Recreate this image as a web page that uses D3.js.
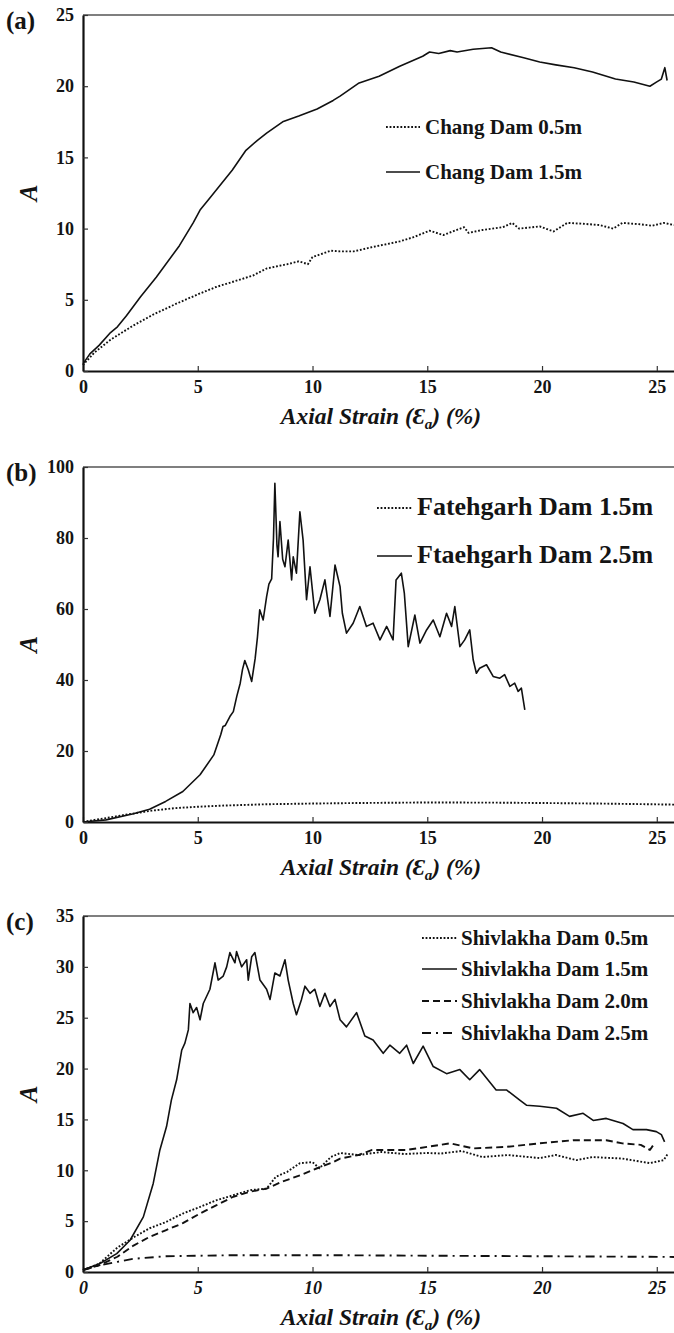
<!DOCTYPE html>
<html>
<head>
<meta charset="utf-8">
<script src="https://cdn.jsdelivr.net/npm/d3@7"></script>
<style>
  body { margin: 0; background: #fff; }
  svg text { font-family: "Liberation Serif", "Times New Roman", serif; font-weight: bold; fill: #141414; }
</style>
</head>
<body>
<div id="chart"></div>
<script>
// --- Data ---
const strainTicks = [0, 5, 10, 15, 20, 25];
const ticksA = [0, 5, 10, 15, 20, 25];
const ticksB = [0, 20, 40, 60, 80, 100];
const ticksC = [0, 5, 10, 15, 20, 25, 30, 35];

// (a) Chang Dam
const changDam05 = [[0,0.4],[0.1,0.6],[0.5,1.3],[1.2,2.2],[2.2,3.2],[3.1,4.0],[4.1,4.75],[5.1,5.45],[5.8,5.9],[6.6,6.3],[7.4,6.7],[8.0,7.2],[8.9,7.5],[9.4,7.7],[9.8,7.5],[10.0,8.0],[10.8,8.45],[11.2,8.4],[11.8,8.4],[12.6,8.7],[13.8,9.1],[14.4,9.4],[15.1,9.85],[15.7,9.55],[16.6,10.1],[16.8,9.7],[17.4,9.9],[18.3,10.1],[18.7,10.4],[19.0,10.0],[19.9,10.15],[20.5,9.8],[21.1,10.4],[21.7,10.35],[22.5,10.25],[23.1,10.0],[23.5,10.4],[24.3,10.3],[24.8,10.2],[25.3,10.4],[25.75,10.25]];
const changDam15 = [[0,0.5],[0.3,1.2],[0.7,1.8],[1.2,2.7],[1.5,3.1],[1.9,3.9],[2.5,5.2],[3.2,6.6],[4.2,8.8],[4.8,10.4],[5.1,11.3],[5.5,12.1],[6.0,13.1],[6.5,14.1],[7.1,15.5],[7.6,16.2],[8.0,16.7],[8.7,17.5],[9.4,17.9],[10.2,18.4],[10.9,19.0],[11.2,19.3],[12.0,20.2],[12.9,20.7],[13.8,21.4],[14.8,22.1],[15.1,22.4],[15.5,22.3],[16.0,22.5],[16.3,22.4],[17.0,22.6],[17.8,22.7],[18.2,22.4],[19.2,22.0],[19.9,21.7],[20.6,21.5],[21.4,21.3],[22.2,21.0],[23.2,20.5],[24.0,20.3],[24.7,20.0],[25.0,20.3],[25.2,20.5],[25.35,21.3],[25.45,20.4]];

// (b) Fatehgarh Dam
const fatehgarh15 = [[0,0],[0.5,0.6],[1,1.1],[2,2.2],[3,3.2],[4,3.9],[5,4.3],[6,4.6],[7,4.8],[8,5.0],[10,5.2],[12,5.35],[15,5.5],[18,5.45],[20,5.35],[22.5,5.2],[25.75,4.9]];
const ftaehgarh25 = [[0,0],[1,0.6],[2.2,2.3],[2.9,3.6],[3.6,5.8],[4.35,8.6],[5.1,13.3],[5.7,18.9],[6.0,24.6],[6.1,26.9],[6.2,27.2],[6.4,29.7],[6.55,31.1],[6.7,35.4],[6.85,39.1],[6.95,43],[7.05,45.5],[7.2,42.9],[7.35,39.6],[7.5,46],[7.6,52],[7.7,59.8],[7.85,56.9],[8.0,63.5],[8.1,67],[8.22,68.5],[8.3,80],[8.36,95.4],[8.45,78],[8.5,74.7],[8.58,84.6],[8.7,74],[8.8,71.9],[8.94,79.4],[9.09,68.2],[9.16,74.7],[9.3,70.1],[9.45,87.4],[9.59,79.4],[9.74,62.6],[9.89,71.9],[10.1,58.8],[10.32,62.6],[10.54,68.2],[10.76,57.9],[10.98,72.4],[11.2,66.3],[11.3,58.8],[11.48,53.2],[11.77,56],[12.06,60.7],[12.35,55.1],[12.64,56],[12.94,51.3],[13.23,55.1],[13.51,51.3],[13.64,68.2],[13.87,70.1],[14.0,64.5],[14.17,49.4],[14.46,58.3],[14.68,50.4],[14.97,54.1],[15.26,56.9],[15.55,52.2],[15.84,58.8],[16.06,55.1],[16.2,60.7],[16.42,49.4],[16.63,51.3],[16.85,54.1],[17.0,45.7],[17.14,41.9],[17.28,43.3],[17.58,44.3],[17.87,41],[18.16,40.5],[18.37,41.5],[18.6,38.2],[18.81,39.1],[18.96,36.8],[19.1,37.7],[19.25,31.6]];

// (c) Shivlakha Dam
const shivlakha05 = [[0,0.2],[0.7,0.8],[1.5,2.4],[2.2,3.4],[2.9,4.3],[3.6,4.9],[4.35,5.75],[5.1,6.4],[5.8,7.05],[6.55,7.55],[7.3,8.05],[8.0,8.2],[8.4,9.35],[8.9,9.85],[9.45,10.7],[10.0,10.8],[10.3,10.2],[10.8,11.3],[11.2,11.7],[12,11.5],[13,11.8],[14,11.6],[15,11.7],[15.6,11.65],[16.5,11.9],[17.4,11.3],[18.5,11.5],[19.9,11.2],[20.6,11.5],[21.5,11.0],[22.2,11.3],[23.5,11.15],[24.7,10.7],[25.3,11.0],[25.5,11.7]];
const shivlakha15 = [[0,0.2],[0.74,0.83],[1.47,1.81],[2.05,3.12],[2.63,5.42],[3.06,8.71],[3.35,12.0],[3.64,14.3],[3.85,16.9],[4.08,18.9],[4.3,21.8],[4.44,22.5],[4.59,23.8],[4.66,26.4],[4.8,25.5],[4.95,26],[5.1,24.8],[5.24,26.4],[5.53,27.8],[5.75,30.4],[5.89,28.7],[6.11,29.1],[6.26,30.0],[6.4,31.4],[6.62,30.4],[6.69,31.5],[6.91,30.0],[7.13,30.7],[7.2,28.7],[7.35,31.0],[7.49,31.4],[7.71,28.7],[8.0,27.8],[8.15,26.8],[8.36,29.4],[8.58,29.1],[8.8,30.7],[8.94,28.7],[9.16,26.4],[9.3,25.3],[9.52,26.8],[9.67,28.1],[9.89,27.4],[10.1,27.8],[10.32,26.1],[10.54,27.4],[10.76,26.1],[10.98,26.8],[11.2,24.8],[11.48,24.1],[11.92,25.5],[12.28,23.2],[12.64,22.8],[13.08,21.5],[13.37,22.3],[13.8,21.5],[14.1,22.3],[14.39,20.5],[14.82,22.2],[15.26,20.2],[15.84,19.5],[16.42,19.9],[16.85,18.9],[17.28,19.9],[18.0,17.9],[18.45,17.9],[19.03,16.9],[19.32,16.4],[19.9,16.3],[20.63,16.1],[21.2,15.3],[21.79,15.6],[22.23,14.9],[22.8,15.1],[23.53,14.6],[23.96,14.0],[24.55,14.0],[24.98,13.8],[25.2,13.5],[25.34,12.8]];
const shivlakha20 = [[0,0.2],[0.7,0.65],[1.5,1.5],[2.2,2.6],[2.9,3.45],[3.6,4.1],[4.35,4.8],[5.1,5.75],[5.8,6.55],[6.55,7.4],[7.3,7.9],[8.0,8.2],[8.7,8.9],[9.45,9.5],[10.2,10.2],[10.9,10.8],[11.2,11.15],[12,11.5],[12.6,12.0],[14.1,12.0],[15.0,12.3],[16.0,12.65],[17.0,12.15],[18.45,12.3],[19.9,12.65],[21.35,12.95],[22.8,12.95],[23.5,12.65],[24.3,12.5],[24.7,12.0],[24.9,12.65]];
const shivlakha25 = [[0,0.2],[0.7,0.65],[1.5,1.0],[2.2,1.3],[3.6,1.55],[6.5,1.65],[10.9,1.65],[15,1.6],[20,1.55],[25.75,1.48]];

// --- Setup ---
const W = 674, H = 1333;
const svg = d3.select("#chart").append("svg").attr("width", W).attr("height", H);
const x = d3.scaleLinear().domain([0, 25.75]).range([83, W]);

const styles = {
  dotted:  { dash: "1.8,1.8", width: 1.9 },
  solid:   { dash: null,       width: 1.6 },
  dashed:  { dash: "7,4",      width: 1.9 },
  dashdot: { dash: "9,5,2,5",  width: 1.9 }
};

const panels = [
  { label: "(a)", top: 15, bottom: 371, yMax: 25, ticks: ticksA, italicX: false,
    legend: { x1: 386, x2: 420, tx: 425, size: 21, rows: [127, 172] },
    series: [ { name: "Chang Dam 0.5m", data: changDam05, style: "dotted" },
              { name: "Chang Dam 1.5m", data: changDam15, style: "solid" } ] },
  { label: "(b)", top: 467, bottom: 822, yMax: 100, ticks: ticksB, italicX: false,
    legend: { x1: 377, x2: 412, tx: 417, size: 26, rows: [508, 556] },
    series: [ { name: "Fatehgarh Dam 1.5m", data: fatehgarh15, style: "dotted" },
              { name: "Ftaehgarh Dam 2.5m", data: ftaehgarh25, style: "solid" } ] },
  { label: "(c)", top: 916, bottom: 1272, yMax: 35, ticks: ticksC, italicX: true,
    legend: { x1: 422, x2: 457, tx: 461, size: 21, rows: [938, 969, 1001, 1033] },
    series: [ { name: "Shivlakha Dam 0.5m", data: shivlakha05, style: "dotted" },
              { name: "Shivlakha Dam 1.5m", data: shivlakha15, style: "solid" },
              { name: "Shivlakha Dam 2.0m", data: shivlakha20, style: "dashed" },
              { name: "Shivlakha Dam 2.5m", data: shivlakha25, style: "dashdot" } ] }
];

function drawPanel(p) {
  const y = d3.scaleLinear().domain([0, p.yMax]).range([p.bottom, p.top]);
  const g = svg.append("g");

  // top frame line
  g.append("line").attr("x1", x(0)).attr("x2", W).attr("y1", p.top).attr("y2", p.top)
    .attr("stroke", "#555").attr("stroke-width", 1.6);

  // curves
  const line = d3.line().x(d => x(d[0])).y(d => y(d[1]));
  p.series.forEach(s => {
    const st = styles[s.style];
    g.append("path").datum(s.data).attr("d", line)
      .attr("fill", "none").attr("stroke", "#111").attr("stroke-width", st.width)
      .attr("stroke-dasharray", st.dash).attr("stroke-linejoin", "round");
  });

  // axes
  const xAxis = g.append("g").attr("transform", `translate(0,${p.bottom})`)
    .call(d3.axisBottom(x).tickValues(strainTicks).tickSize(-5).tickSizeOuter(0).tickPadding(9));
  const yAxis = g.append("g").attr("transform", `translate(${x(0)},0)`)
    .call(d3.axisLeft(y).tickValues(p.ticks).tickSize(-5).tickSizeOuter(0).tickPadding(9));
  [xAxis, yAxis].forEach(a => {
    a.select(".domain").attr("stroke", "#111").attr("stroke-width", 2.2);
    a.selectAll(".tick line").attr("stroke", "#333").attr("stroke-width", 1.2);
    a.selectAll("text").style("font-size", "18px").attr("fill", "#141414")
      .style("font-family", '"Liberation Serif", serif').style("font-weight", "bold");
  });
  if (p.italicX) xAxis.selectAll("text").style("font-style", "italic");

  // axis titles
  const xt = g.append("text").attr("x", 381).attr("y", p.bottom + 53)
    .attr("text-anchor", "middle").style("font-size", "23.5px").style("font-style", "italic");
  xt.append("tspan").text("Axial Strain (Ɛ");
  xt.append("tspan").text("a").style("font-size", "15px").attr("dy", 5);
  xt.append("tspan").text(") (%)").attr("dy", -5);

  g.append("text").attr("transform", `translate(37,${(p.top + p.bottom) / 2}) rotate(-90)`)
    .attr("text-anchor", "middle").style("font-size", "25px").style("font-style", "italic").text("A");

  // panel label
  g.append("text").attr("x", 6).attr("y", p.top + 14).style("font-size", "25px").text(p.label);

  // legend
  p.series.forEach((s, i) => {
    const ly = p.legend.rows[i];
    const st = styles[s.style];
    g.append("line").attr("x1", p.legend.x1).attr("x2", p.legend.x2).attr("y1", ly).attr("y2", ly)
      .attr("stroke", "#111").attr("stroke-width", st.width).attr("stroke-dasharray", st.dash);
    g.append("text").attr("x", p.legend.tx).attr("y", ly + 6.5)
      .style("font-size", p.legend.size + "px").text(s.name);
  });
}

panels.forEach(drawPanel);
</script>
</body>
</html>
